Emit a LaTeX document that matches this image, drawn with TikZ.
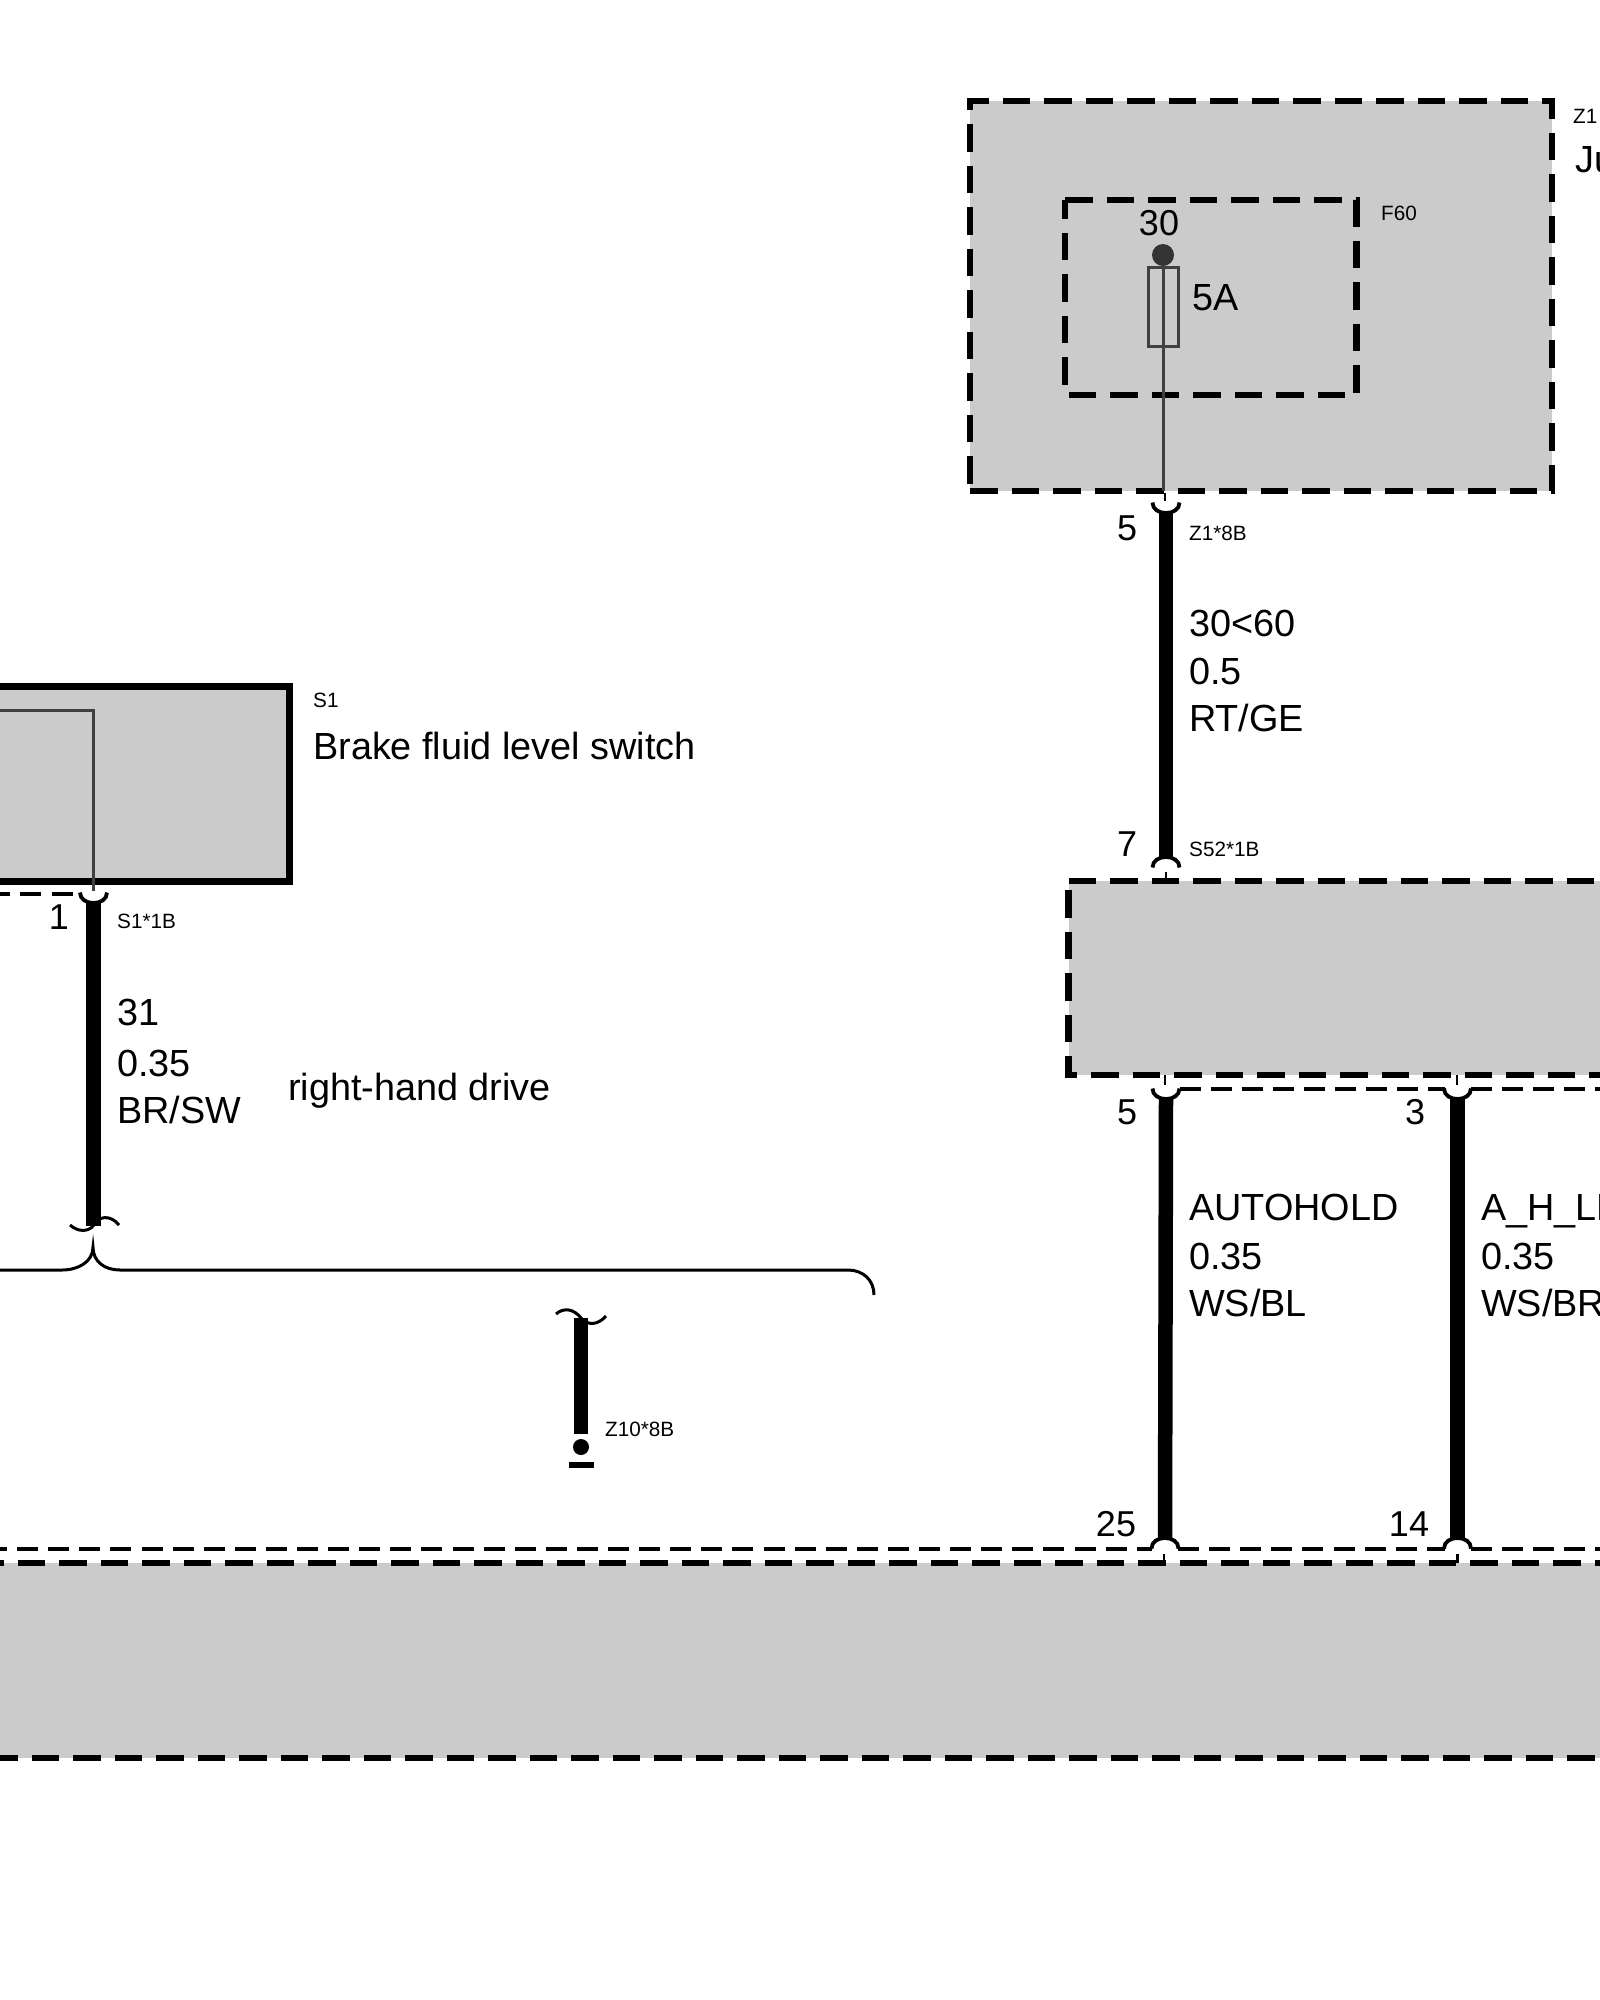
\documentclass[tikz,border=0pt]{standalone}
\usepackage{fontspec}
\setmainfont{Liberation Sans}
\usetikzlibrary{calc}

\definecolor{boxgray}{HTML}{CBCBCB}
\definecolor{pingray}{HTML}{404040}

\newcommand{\cupdown}[1]{\draw[cupline] (#1) +(-13.5,-10.5) .. controls +(0,14) and +(0,14) .. +(13.5,-10.5);}
\newcommand{\cupup}[1]{\draw[cupline] (#1) +(-13.5,10.5) .. controls +(0,-14) and +(0,-14) .. +(13.5,10.5);}

\begin{document}
\begin{tikzpicture}[
    x=1pt, y=-1pt,
    boxfill/.style={rectangle, fill=boxgray, inner sep=0pt, outer sep=0pt},
    zoneline/.style={line width=6.5pt, dash pattern=on 27.5pt off 14pt},
    wire/.style={line width=14.5pt},
    thinwire/.style={line width=3pt, draw=pingray},
    cupline/.style={line width=3.8pt},
    pintick/.style={line width=2.8pt},
    sharedline/.style={line width=3.3pt, dash pattern=on 21pt off 10.1pt},
    bigtext/.style={font=\fontsize{37.8}{40}\selectfont, inner sep=0pt, anchor=west, text height=27pt, text depth=0pt},
    smalltext/.style={font=\fontsize{20.7}{22}\selectfont, inner sep=0pt, anchor=west, text height=15pt, text depth=0pt},
    pinnum/.style={bigtext, anchor=center, font=\fontsize{36}{40}\selectfont}
]
    \useasboundingbox (0,0) rectangle (1600,2000);
    \clip (0,0) rectangle (1600,2000);

    % Junction box
    \node[boxfill, minimum width=582pt, minimum height=390pt, anchor=north west] (z1) at (970,101) {};
    \draw[zoneline] (z1.south west) -- (z1.south east) -- (z1.north east) -- (z1.north west) -- cycle;
    \node[smalltext] (z1tag) at (1573,116) {Z1};
    \node[bigtext] (z1name) at (1575,159) {Ju};

    % Fuse F60
    \node[rectangle, inner sep=0pt, outer sep=0pt, minimum width=291.5pt, minimum height=195pt, anchor=north west] (f60) at (1065,200) {};
    \draw[zoneline] (f60.north west) -- (f60.north east) -- (f60.south east) -- (f60.south west) -- cycle;
    \node[smalltext] (f60tag) at (1381,213) {F60};
    \node[circle, fill=black!80, inner sep=0pt, minimum size=22pt] (f60dot) at (1163,255) {};
    \node[rectangle, draw=pingray, line width=3pt, inner sep=0pt, minimum width=30pt, minimum height=79pt] (fuse) at (1163,306.5) {};
    \coordinate (z1out) at (1163,491);
    \draw[thinwire] (f60dot) -- (z1out);
    \node[pinnum] (f60pin) at (1159,222) {30};
    \node[bigtext] (fuseval) at (1192,297) {5A};

    % Brake fluid level switch
    \node[boxfill, draw, line width=7pt, minimum width=400pt, minimum height=195pt, anchor=north east] (s1) at (289,686) {};
    \node[smalltext] (s1tag) at (313,700) {S1};
    \node[bigtext] (s1name) at (313,746) {Brake fluid level switch};
    \coordinate (s1in) at (-10,710);
    \coordinate (s1pin) at (93.5,903);
    \draw[thinwire] (s1in) -| ($(s1pin)+(-0.5,-12)$);
    \cupdown{s1pin}
    \draw[sharedline] ($(s1pin)+(-21,-9)$) -- (-10,894);

    % Wire S1 to branch
    \coordinate (s1cut) at (93.5,1226);
    \draw[wire] (s1pin) -- (s1cut);
    \draw[line width=3pt] (70,1225) .. controls (78,1232) and (88,1232) .. (93,1226) .. controls (98,1216) and (110,1214) .. (119,1225);
    \node[pinnum] (s1num) at (59,916) {1};
    \node[smalltext] (s1conn) at (117,921) {S1*1B};
    \node[bigtext] (s1w1) at (117,1012) {31};
    \node[bigtext] (s1w2) at (117,1063) {0.35};
    \node[bigtext] (s1w3) at (117,1110) {BR/SW};
    \node[bigtext] (drive) at (288,1087) {right-hand drive};

    % Brace
    \draw[line width=3pt] (-10,1270) -- (62,1270) .. controls (78,1270) and (93,1262) .. (93,1247) .. controls (93,1262) and (105,1270) .. (120,1270) -- (848,1270) .. controls (863,1270) and (874,1280) .. (874,1295);

    % Wire to ground
    \coordinate (z10cut) at (581,1318);
    \node[circle, fill, inner sep=0pt, minimum size=16pt] (gnddot) at (581,1447) {};
    \node[rectangle, fill, inner sep=0pt, minimum width=25pt, minimum height=6.5pt] (gndbar) at (581,1465) {};
    \draw[wire] (z10cut) -- ($(gnddot.north)+(0,-5)$);
    \draw[line width=3pt] (556,1314) .. controls (564,1307) and (574,1309) .. (581,1318) .. controls (588,1326) and (598,1325) .. (606,1316);
    \node[smalltext] (z10conn) at (605,1429) {Z10*8B};

    % Module S52
    \node[boxfill, minimum width=700pt, minimum height=194pt, anchor=north west] (s52) at (1068.5,881) {};
    \draw[zoneline] (s52.north west) -- (s52.north east);
    \draw[zoneline, dash phase=32.5pt] (s52.north west) -- (s52.south west) -- (s52.south east);
    \node[smalltext] (s52conn) at (1189,849) {S52*1B};

    % Lower module
    \node[boxfill, minimum width=1766pt, minimum height=195pt, anchor=north west] (z10) at (-83,1563) {};
    \draw[zoneline, dash phase=23.7pt] (z10.north west) -- (z10.north east);
    \draw[zoneline, dash phase=9.7pt] (z10.south west) -- (z10.south east);

    % Pins
    \coordinate (z1pin) at (1166,513);
    \coordinate (s52top) at (1166,857);
    \coordinate (s52a) at (1166,1099);
    \coordinate (s52b) at (1457.5,1099);
    \coordinate (z10a) at (1165,1538);
    \coordinate (z10b) at (1457.5,1538);
    \cupdown{z1pin}
    \cupup{s52top}
    \cupdown{s52a}
    \cupdown{s52b}
    \cupup{z10a}
    \cupup{z10b}
    \draw[pintick] (z1pin) +(-1,-20) -- +(-1,-12);
    \draw[pintick] (s52top) +(0,15) -- +(0,24);
    \draw[pintick] (s52a) +(-1,-24) -- +(-1,-14);
    \draw[pintick] (s52b) +(-0.5,-24) -- +(-0.5,-14);
    \draw[pintick] (z10a) +(-1,16) -- +(-1,25);
    \draw[pintick] (z10b) +(0,16) -- +(0,25);

    % Wires
    \draw[wire] (z1pin) -- (s52top);
    \draw[wire] (s52a) -- (z10a);
    \draw[wire] (s52b) -- (z10b);

    % Shared lines
    \draw[sharedline] ($(s52a)+(13.5,-10)$) -- ($(s52b)+(-13,-10)$);
    \draw[sharedline] ($(s52b)+(13.5,-10)$) -- (1620,1089);
    \draw[sharedline] (-14,1549) -- ($(z10a)+(-13,11)$);
    \draw[sharedline] ($(z10a)+(13,11)$) -- ($(z10b)+(-13,11)$);
    \draw[sharedline] ($(z10b)+(13,11)$) -- (1620,1549);

    % Pin numbers and wire labels
    \node[pinnum] (z1num) at (1127,527) {5};
    \node[smalltext] (z1conn) at (1189,533) {Z1*8B};
    \node[bigtext] (w1a) at (1189,623) {30<60};
    \node[bigtext] (w1b) at (1189,671) {0.5};
    \node[bigtext] (w1c) at (1189,718) {RT/GE};
    \node[pinnum] (s52num) at (1127,843) {7};
    \node[pinnum] (s52anum) at (1127,1111) {5};
    \node[pinnum] (s52bnum) at (1415,1111) {3};
    \node[bigtext] (w2a) at (1189,1207) {AUTOHOLD};
    \node[bigtext] (w2b) at (1189,1256) {0.35};
    \node[bigtext] (w2c) at (1189,1303) {WS/BL};
    \node[bigtext] (w3a) at (1481,1207) {A\_H\_LE};
    \node[bigtext] (w3b) at (1481,1256) {0.35};
    \node[bigtext] (w3c) at (1481,1303) {WS/BR};
    \node[pinnum] (z10anum) at (1116,1523) {25};
    \node[pinnum] (z10bnum) at (1409,1523) {14};
\end{tikzpicture}
\end{document}
